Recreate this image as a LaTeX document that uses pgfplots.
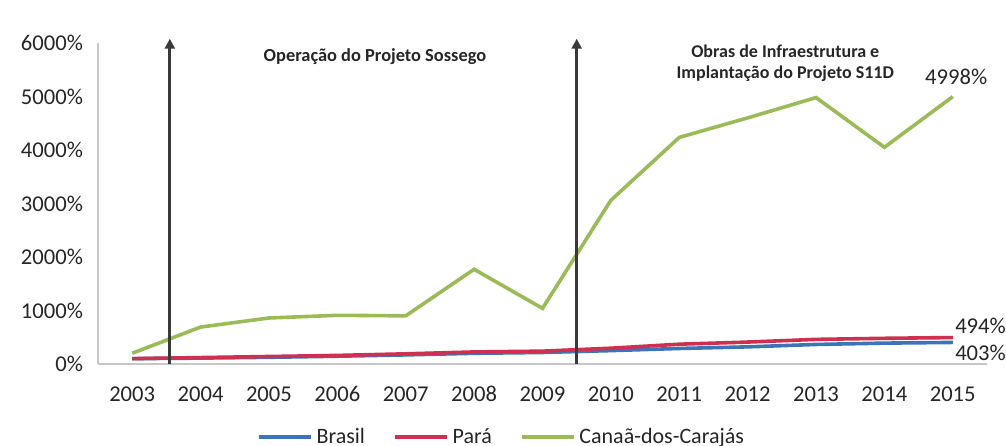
\documentclass[border=0pt]{standalone}
\usepackage{pgfplots}
\pgfplotsset{compat=1.18}
\usepackage{fontspec}
\setmainfont{Carlito}
\usetikzlibrary{arrows.meta}
\definecolor{cgreen}{HTML}{9BBB59}
\definecolor{cred}{HTML}{D0304F}
\definecolor{cblue}{HTML}{3D74B8}
\definecolor{carrow}{HTML}{3A3A3A}
\definecolor{ctext}{HTML}{262626}
\begin{document}
\begin{tikzpicture}
\begin{axis}[
  name=ax,
  scale only axis,
  width=444.5pt, height=160.5pt,
  xmin=2002.5, xmax=2015.5,
  ymin=0, ymax=6000,
  xtick={2003,...,2015},
  /pgf/number format/1000 sep={},
  ytick={0,1000,...,6000},
  yticklabel={\pgfmathprintnumber[fixed,precision=0,1000 sep={}]{\tick}\%},
  /pgf/number format/assume math mode=true,
  tick label style={font=\fontsize{11.3}{13}\selectfont, text=ctext},
  xticklabel style={anchor=north, text height=8pt, text depth=0pt, yshift=-7pt},
  yticklabel style={xshift=-4pt},
  axis x line*=bottom, axis y line*=left,
  axis line style={draw=black!22, line width=0.8pt},
  x axis line style={-}, y axis line style={-},
  major tick length=0pt,
  clip=false,
  legend style={at={(0.455,-0.228)}, anchor=center, draw=none, fill=none,
    font=\fontsize{11}{13}\selectfont, text=ctext,
    legend columns=3, /tikz/every even column/.append style={column sep=12pt},
    inner sep=0pt},
  legend image code/.code={\draw[#1, line width=1.8pt] (0cm,0cm) -- (26pt,0cm);},
  legend cell align=left,
]
\addplot[cblue, line width=1.8pt] coordinates {
 (2003,100) (2004,110) (2005,125) (2006,145) (2007,170) (2008,200) (2009,215)
 (2010,250) (2011,290) (2012,320) (2013,365) (2014,390) (2015,403)};
\addlegendentry{Brasil}
\addplot[cred, line width=1.8pt] coordinates {
 (2003,100) (2004,120) (2005,140) (2006,160) (2007,190) (2008,225) (2009,240)
 (2010,295) (2011,370) (2012,410) (2013,460) (2014,480) (2015,494)};
\addlegendentry{Pará}
\addplot[cgreen, line width=1.8pt] coordinates {
 (2003,200) (2004,690) (2005,860) (2006,910) (2007,900) (2008,1770) (2009,1040)
 (2010,3060) (2011,4235) (2012,4600) (2013,4980) (2014,4050) (2015,4998)};
\addlegendentry{Canaã-dos-Carajás}

\draw[carrow, line width=1.4pt, -{Triangle[length=5pt,width=5pt]}] (axis cs:2003.55,0) -- (axis cs:2003.55,6080);
\draw[carrow, line width=1.4pt, -{Triangle[length=5pt,width=5pt]}] (axis cs:2009.5,0) -- (axis cs:2009.5,6080);

\node[font=\bfseries\fontsize{9.2}{10.5}\selectfont, text=ctext] at (axis cs:2006.55,5750) {Operação do Projeto Sossego};
\node[font=\bfseries\fontsize{9}{10.3}\selectfont, text=ctext, align=center] at (axis cs:2012.55,5620) {Obras de Infraestrutura e\\Implantação do Projeto S11D};

\node[font=\fontsize{11.3}{13}\selectfont, text=ctext, anchor=south] at (axis cs:2015.05,5080) {4998\%};
\node[font=\fontsize{11.3}{13}\selectfont, text=ctext, anchor=south west, inner sep=0pt] at (axis cs:2015.03,560) {494\%};
\node[font=\fontsize{11.3}{13}\selectfont, text=ctext, anchor=north west, inner sep=0pt] at (axis cs:2015.03,370) {403\%};
\end{axis}
\pgfresetboundingbox
\path[use as bounding box] ([xshift=-49pt,yshift=-41pt]ax.south west) rectangle ([xshift=9.5pt,yshift=21.5pt]ax.north east);
\end{tikzpicture}
\end{document}
